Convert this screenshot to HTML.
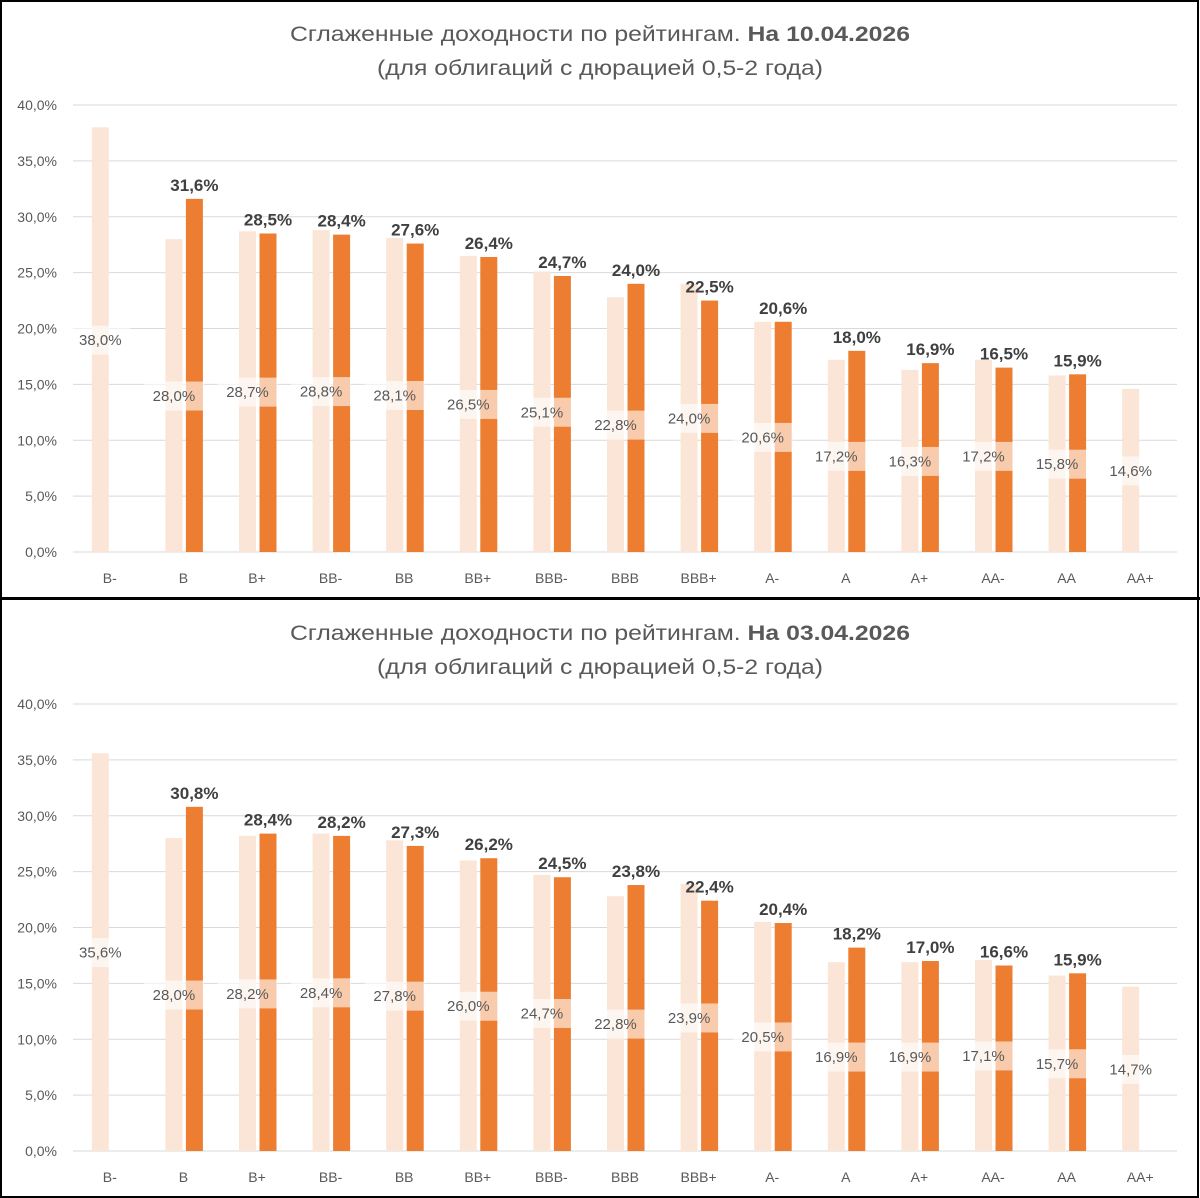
<!DOCTYPE html>
<html><head><meta charset="utf-8"><style>
html,body{margin:0;padding:0;background:#fff;}
svg{display:block;font-family:"Liberation Sans",sans-serif;}
</style></head><body>
<svg id="c" width="1200" height="1198" viewBox="0 0 1200 1198"></svg>
<script>
const categories=["B-","B","B+","BB-","BB","BB+","BBB-","BBB","BBB+","A-","A","A+","AA-","AA","AA+"];
const lightTop=[38.0,28.0,28.7,28.8,28.1,26.5,25.1,22.8,24.0,20.6,17.2,16.3,17.2,15.8,14.6];
const orangeTop=[null,31.6,28.5,28.4,27.6,26.4,24.7,24.0,22.5,20.6,18.0,16.9,16.5,15.9,null];
const lightBottom=[35.6,28.0,28.2,28.4,27.8,26.0,24.7,22.8,23.9,20.5,16.9,16.9,17.1,15.7,14.7];
const orangeBottom=[null,30.8,28.4,28.2,27.3,26.2,24.5,23.8,22.4,20.4,18.2,17.0,16.6,15.9,null];
const yTicks=[0,5,10,15,20,25,30,35,40];
const titlesTop=["Сглаженные доходности по рейтингам. ","На 10.04.2026"];
const titlesBottom=["Сглаженные доходности по рейтингам. ","На 03.04.2026"];
const subtitle="(для облигаций с дюрацией 0,5-2 года)";

const NS="http://www.w3.org/2000/svg";
const svg=document.getElementById('c');
function mk(tag,attrs,parent){const e=document.createElementNS(NS,tag);for(const k in attrs)e.setAttribute(k,attrs[k]);(parent||svg).appendChild(e);return e;}
const fmt=v=>v.toFixed(1).replace('.',',')+'%';

function chart(off,light,orange,titles,name){
  const g=mk('g',{transform:'translate(0,'+off+')'});
  
  
  const x0=73,x1=1177,y0=552,yTop=105;
  const bw=(x1-x0)/categories.length;
  const y=v=>y0-(v/40)*(y0-yTop);
  const cx=i=>x0+bw*(i+0.5);
  const t=mk('text',{x:600,y:41,'text-anchor':'middle','font-size':21,fill:'#595959',textLength:620,lengthAdjust:'spacingAndGlyphs'},g);
  
  
  const s1=mk('tspan',{},t);s1.textContent=titles[0];
  const s2=mk('tspan',{'font-weight':'bold'},t);s2.textContent=titles[1];
  const st=mk('text',{x:600,y:75,'text-anchor':'middle','font-size':21,fill:'#595959',textLength:446,lengthAdjust:'spacingAndGlyphs'},g);
  
  
  st.textContent=subtitle;
  yTicks.forEach(v=>{
    const l=mk('line',{x1:x0,x2:x1,y1:y(v),y2:y(v),stroke:'#d9d9d9','stroke-width':1},g);
    
    
    const tx=mk('text',{x:57,y:y(v)+5,'text-anchor':'end','font-size':14,fill:'#595959'},g);
    
    
    tx.textContent=fmt(v);
  });
  categories.forEach((c,i)=>{
    const tx=mk('text',{x:cx(i),y:583,'text-anchor':'middle','font-size':14,fill:'#595959'},g);
    
    
    tx.textContent=c;
  });
  categories.forEach((c,i)=>{
    const c0=cx(i);
    const lv=light[i];
    if(lv!=null){
      const r=mk('rect',{x:c0-18,y:y(lv),width:17,height:y0-y(lv),fill:'#fbe5d6'},g);
      
      
    }
    const ov=orange[i];
    if(ov!=null){
      const r=mk('rect',{x:c0+2.5,y:y(ov),width:17,height:y0-y(ov),fill:'#ed7d31'},g);
      
      
      const tl=mk('text',{x:c0+11,y:y(ov)-8,'text-anchor':'middle','font-size':17,'font-weight':'bold',fill:'#404040'},g);
      
      
      tl.textContent=fmt(ov);
    }
    if(lv!=null){
      const my=y(lv/2);
      const bx=mk('rect',{x:c0-9.5-30,y:my-14,width:60,height:29,fill:'#ffffff','fill-opacity':0.6},g);
      
      
      const tl=mk('text',{x:c0-9.5,y:my+5.5,'text-anchor':'middle','font-size':15,fill:'#595959'},g);
      
      
      tl.textContent=fmt(lv);
    }
  });
}
chart(0,lightTop,orangeTop,titlesTop,'chart-10-04-2026');
chart(599,lightBottom,orangeBottom,titlesBottom,'chart-03-04-2026');
const f=mk('rect',{x:1,y:1,width:1197,height:1196,fill:'none',stroke:'#000','stroke-width':2});


const sep=mk('line',{x1:0,x2:1200,y1:598.5,y2:598.5,stroke:'#000','stroke-width':3});


</script>
</body></html>
